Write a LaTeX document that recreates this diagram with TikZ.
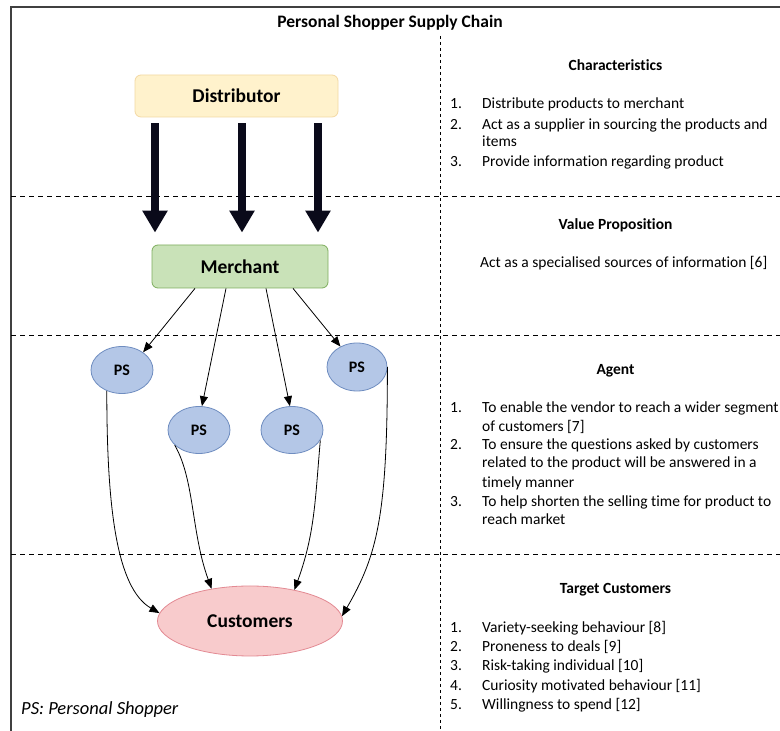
\documentclass[tikz,border=0pt]{standalone}
\usepackage{fontspec}
\setmainfont{Carlito}[Ligatures=NoCommon]
\usetikzlibrary{arrows.meta,shapes.geometric}
\definecolor{distfill}{HTML}{FFF2CC}
\definecolor{distdraw}{HTML}{F3D9A4}
\definecolor{merfill}{HTML}{C9E2B8}
\definecolor{merdraw}{HTML}{7FAE5E}
\definecolor{psfill}{HTML}{B4C7E7}
\definecolor{psdraw}{HTML}{6F8DC0}
\definecolor{custfill}{HTML}{F8CBCC}
\definecolor{custdraw}{HTML}{E38A93}
\definecolor{arrowcol}{HTML}{0A0A1A}
\begin{document}
\begin{tikzpicture}[x=1pt,y=1pt,
  every node/.style={inner sep=0pt},
  boxnode/.style={draw, rounded corners=6pt, line width=0.8pt, font=\fontsize{19.5}{22}\selectfont\bfseries},
  psnode/.style={ellipse, draw=psdraw, fill=psfill, line width=0.8pt, minimum width=62pt, minimum height=47pt, font=\fontsize{16}{18}\selectfont\bfseries},
  bigarrow/.style={line width=8.5pt, draw=arrowcol, -{Triangle[length=22pt,width=24pt]}},
  thinarrow/.style={line width=0.8pt, -{Triangle[length=10pt,width=8pt]}},
  hdash/.style={dash pattern=on 5pt off 4pt, line width=0.8pt},
  vdash/.style={dash pattern=on 3pt off 3pt, line width=0.8pt},
  heading/.style={font=\fontsize{15.5}{18.5}\selectfont\bfseries, anchor=base},
  body/.style={font=\fontsize{15.5}{18.5}\selectfont, anchor=base west},
]
\useasboundingbox (0,0) rectangle (780,731);
\fill[white] (0,0) rectangle (780,731);
% frame
\draw[line width=1.8pt, black!75] (11,724) rectangle (792,-12);
% title
\node[font=\fontsize{17.5}{20}\selectfont\bfseries, anchor=base] (title) at (390,703) {Personal Shopper Supply Chain};
% dividers
\draw[vdash] (440,695) -- (440,-5);
\draw[hdash] (11,535) -- (785,535);
\draw[hdash] (11,396) -- (785,396);
\draw[hdash] (11,177) -- (785,177);
% nodes
\node[boxnode, draw=distdraw, fill=distfill, minimum width=203pt, minimum height=42pt] (dist) at (236.5,635) {Distributor};
\node[boxnode, draw=merdraw, fill=merfill, minimum width=176pt, minimum height=43pt] (merch) at (240,464.5) {Merchant};
\node[psnode] (ps1) at (122,361) {PS};
\node[psnode] (ps2) at (199,301) {PS};
\node[psnode] (ps3) at (292,301) {PS};
\node[psnode, minimum width=60pt, minimum height=48pt] (ps4) at (357,364) {PS};
\node[ellipse, draw=custdraw, fill=custfill, line width=0.8pt, minimum width=185pt, minimum height=70pt, font=\fontsize{19.5}{22}\selectfont\bfseries] (cust) at (250,110) {Customers};
% thick arrows
\foreach \dx in {-81.5,5.5,81.5}{
  \draw[bigarrow, shorten <=6pt, shorten >=12pt] ([xshift=\dx pt]dist.south) -- ([xshift=\dx pt]dist.south |- merch.north);
}
% merchant to PS
\draw[thinarrow] ([xshift=-45pt]merch.south) -- (ps1.40);
\draw[thinarrow] ([xshift=-14pt]merch.south) -- (ps2.83);
\draw[thinarrow] ([xshift=26pt]merch.south) -- (ps3.95);
\draw[thinarrow] ([xshift=53pt]merch.south) -- (ps4.129);
% PS to customers
\draw[thinarrow] (ps1.234) .. controls +(270:115) and +(150:50) .. (cust.175);
\draw[thinarrow] (ps2.212) .. controls +(300:40) and +(110:60) .. (cust.140);
\draw[thinarrow] (ps3.340) .. controls +(265:60) and +(70:60) .. (cust.35);
\draw[thinarrow] (ps4.0) .. controls +(270:150) and +(60:70) .. (cust.3);
% legend
\node[font=\fontsize{18.5}{21}\selectfont\itshape, anchor=base west] (legend) at (21,16) {PS: Personal Shopper};
% right column
\node[heading] (h1) at (615.5,660) {Characteristics};
\node[body] (c1n) at (450,622) {1.};
\node[body] (c1) at (482,622) {Distribute products to merchant};
\node[body] (c2n) at (450,601) {2.};
\node[body] (c2) at (482,601) {Act as a supplier in sourcing the products and};
\node[body] (c2b) at (482,584) {items};
\node[body] (c3n) at (450,564) {3.};
\node[body] (c3) at (482,564) {Provide information regarding product};
\node[heading] (h2) at (615.5,501) {Value Proposition};
\node[body] (v1) at (480,463) {Act as a specialised sources of information [6]};
\node[heading] (h3) at (615.5,356) {Agent};
\node[body] (a1n) at (450,318) {1.};
\node[body] (a1) at (482,318) {To enable the vendor to reach a wider segment};
\node[body] (a1b) at (482,299) {of customers [7]};
\node[body] (a2n) at (450,281) {2.};
\node[body] (a2) at (482,281) {To ensure the questions asked by customers};
\node[body] (a2b) at (482,263) {related to the product will be answered in a};
\node[body] (a2c) at (482,243) {timely manner};
\node[body] (a3n) at (450,224) {3.};
\node[body] (a3) at (482,224) {To help shorten the selling time for product to};
\node[body] (a3b) at (482,206) {reach market};
\node[heading] (h4) at (615.5,137) {Target Customers};
\node[body] (t1n) at (450,98) {1.};
\node[body] (t1) at (482,98) {Variety-seeking behaviour [8]};
\node[body] (t2n) at (450,79) {2.};
\node[body] (t2) at (482,79) {Proneness to deals [9]};
\node[body] (t3n) at (450,60) {3.};
\node[body] (t3) at (482,60) {Risk-taking individual [10]};
\node[body] (t4n) at (450,40) {4.};
\node[body] (t4) at (482,40) {Curiosity motivated behaviour [11]};
\node[body] (t5n) at (450,21) {5.};
\node[body] (t5) at (482,21) {Willingness to spend [12]};
\end{tikzpicture}
\end{document}
